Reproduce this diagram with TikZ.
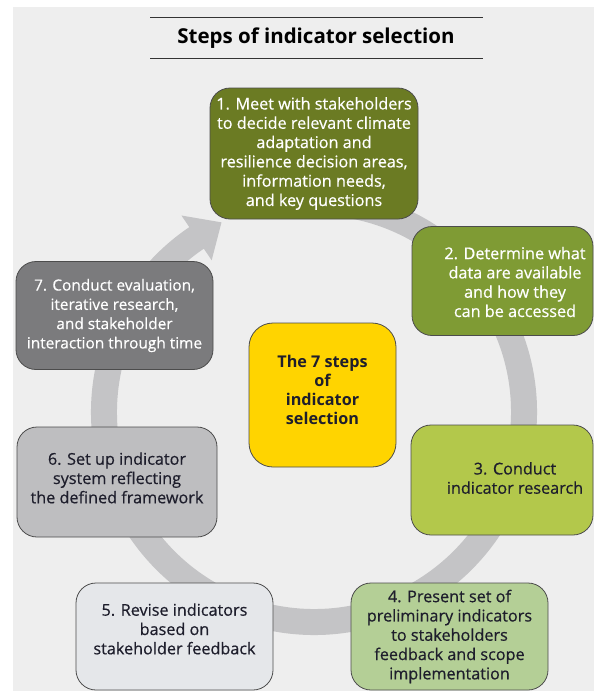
\documentclass[tikz,border=0pt]{standalone}
\usepackage{fontspec}
\setmainfont{Open Sans}
\newfontfamily\medfont{Open Sans}[FakeBold=0.5]
\definecolor{bgc}{HTML}{EEEEEE}
\definecolor{ringc}{HTML}{C4C4C6}
\definecolor{cA}{HTML}{6B7B23}
\definecolor{cB}{HTML}{7F9B34}
\definecolor{cC}{HTML}{B3C84B}
\definecolor{cD}{HTML}{B4CF96}
\definecolor{cE}{HTML}{E5E7EA}
\definecolor{cF}{HTML}{BEBEC0}
\definecolor{cG}{HTML}{7B7B7D}
\definecolor{cY}{HTML}{FFD400}
\definecolor{txt}{HTML}{1E1E2C}
\begin{document}
\begin{tikzpicture}[x=1pt,y=-1pt,
  box/.style={draw=black!70, line width=0.8pt, rounded corners=20pt, inner sep=0pt,
    align=center, text=txt, font=\medfont\fontsize{16.2}{19.3}\selectfont},
  lbl/.style={inner sep=0pt, align=center, font=\medfont\fontsize{16.2}{19.3}\selectfont},
  ring/.style={ringc, line width=26pt}]
\useasboundingbox (0,0) rectangle (594,691);
\fill[white] (0,0) rectangle (594,691);
\fill[bgc] (13,7) rectangle (594,691);
% title
\node[inner sep=0pt, font=\bfseries\fontsize{20.5}{24}\selectfont, text=black] (title) at (316,38) {Steps of indicator selection};
\draw[line width=1pt, black!80] (150,17) -- (483,17);
\draw[line width=1pt, black!80] (150,58) -- (483,58);
% ring
\coordinate (ctr) at (314,412);
\draw[ring] ([shift={(-80:210)}]ctr) arc[start angle=-80, end angle=237, radius=210];
\fill[ringc] ([shift={(236:237)}]ctr) -- ([shift={(244:211)}]ctr) -- ([shift={(236:183)}]ctr) -- cycle;
% boxes
\node[box, fill=cA, text=white, minimum width=208pt, minimum height=131pt] (s1) at (314,153.5)
  {1. Meet with stakeholders\\to decide relevant climate\\adaptation and\\resilience decision areas,\\information needs,\\and key questions};
\node[box, fill=cB, minimum width=181pt, minimum height=109pt] (s2) at (502.5,281) {};
\node[lbl, text=white] (s2t) at (515,282) {2. Determine what\\data are available\\and how they\\can be accessed};
\node[box, fill=cC, minimum width=182pt, minimum height=110pt] (s3) at (502,480) {};
\node[lbl, text=txt] (s3t) at (515,478) {3. Conduct\\indicator research};
\node[box, fill=cD, minimum width=197pt, minimum height=107pt] (s4) at (449.5,636.5)
  {4. Present set of\\preliminary indicators\\to stakeholders\\feedback and scope\\implementation};
\node[box, fill=cE, minimum width=197pt, minimum height=107pt] (s5) at (174.5,636.5)
  {5. Revise indicators\\based on\\stakeholder feedback\\[-4pt]};
\node[box, fill=cF, minimum width=200pt, minimum height=110pt] (s6) at (117,482)
  {6. Set up indicator\\system reflecting\\the defined framework\\[-11pt]};
\node[box, fill=cG, text=white, minimum width=197pt, minimum height=108pt,
  font=\medfont\fontsize{15.4}{19.3}\selectfont] (s7) at (114.5,315.5)
  {7. Conduct evaluation,\\iterative research,\\and stakeholder\\interaction through time};
\node[box, fill=cY, rounded corners=24pt, minimum width=147pt, minimum height=144pt,
  font=\bfseries\fontsize{16.2}{19.3}\selectfont] (mid) at (322.5,395)
  {The 7 steps\\of\\indicator\\selection\\[-9pt]};
\end{tikzpicture}
\end{document}
